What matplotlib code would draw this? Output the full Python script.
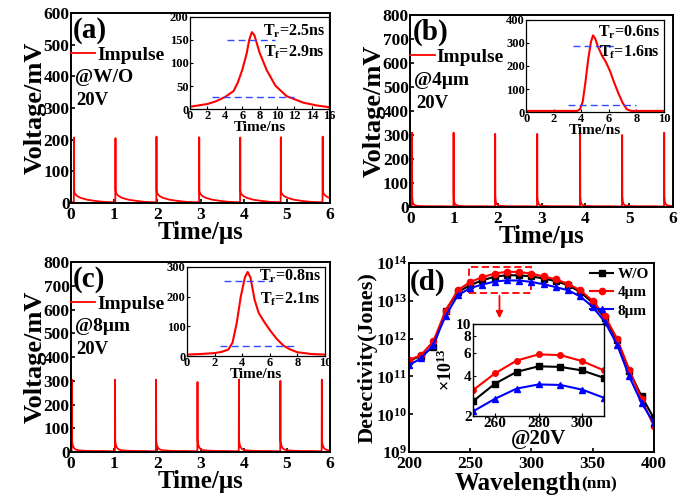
import numpy as np
import matplotlib
matplotlib.use('Agg')
import matplotlib.pyplot as plt
from matplotlib.patches import Rectangle

plt.rcParams['font.family'] = ['Liberation Serif', 'DejaVu Serif']
plt.rcParams['font.weight'] = 'bold'
plt.rcParams['axes.labelweight'] = 'bold'
plt.rcParams['mathtext.fontset'] = 'custom'
plt.rcParams['mathtext.rm'] = 'Liberation Serif:bold'
plt.rcParams['mathtext.bf'] = 'Liberation Serif:bold'
plt.rcParams['mathtext.it'] = 'Liberation Serif:bold:italic'
plt.rcParams['mathtext.default'] = 'regular'

# ---- pulse trains (a)-(c), time in us, voltage in mV
peaks_a = [0.07, 1.03, 1.98, 2.97, 3.92, 4.86, 5.83]
heights_a = [207, 205, 210, 208, 207, 208, 210]
peaks_b = [0.04, 0.99, 1.94, 2.90, 3.88, 4.84, 5.80]
heights_b = [310, 310, 305, 305, 310, 300, 310]
peaks_c = [0.02, 1.02, 1.97, 2.93, 3.89, 4.85, 5.81]
heights_c = [305, 305, 305, 295, 305, 300, 305]

# decay after each spike (offset in us, value in mV)
tail_dt = [0.004, 0.015, 0.04, 0.08, 0.15, 0.3, 0.5, 0.7, 0.9]
tail_a = [40, 32, 27, 22, 17, 11, 7, 4, 3]
tail_b = [45, 22, 11, 7, 5, 4, 4, 4, 3]
tail_c = [50, 33, 20, 12, 8, 6, 5, 5, 4]

# ---- insets, time in ns
ins_a_t = [0, 1, 2, 3, 4, 5, 5.5, 6, 6.5, 6.8, 7.1, 7.4, 8, 8.8, 9.8, 11.1, 13, 14.5, 16]
ins_a_v = [5, 8, 11, 17, 26, 39, 58, 85, 120, 150, 167, 160, 122, 85, 51, 28, 14, 8, 4]
ins_b_t = [0, 3.7, 3.9, 4.1, 4.3, 4.5, 4.7, 4.85, 5.0, 5.2, 5.5, 5.8, 6.1, 6.4, 6.7, 7.0, 7.3, 7.6, 8, 10]
ins_b_v = [5, 5, 12, 45, 130, 230, 305, 333, 320, 285, 245, 215, 175, 125, 80, 40, 12, 5, 5, 5]
ins_c_t = [0, 1, 2, 2.5, 3, 3.3, 3.6, 3.9, 4.2, 4.4, 4.6, 4.9, 5.2, 5.6, 6, 6.5, 7, 7.5, 8, 9, 10]
ins_c_v = [5, 7, 10, 14, 22, 45, 110, 200, 265, 283, 265, 190, 145, 115, 88, 58, 35, 22, 13, 7, 5]

# dashed guide lines: (x0, x1, y)
guides_a = [(4.2, 9.8, 149), (2.5, 11.9, 27)]
guides_b = [(3.4, 6.55, 287), (3.0, 8.0, 32)]
guides_c = [(2.7, 6.1, 251), (2.4, 7.9, 34)]

tr_a, tf_a = '2.5', '2.9'
tr_b, tf_b = '0.6', '1.6'
tr_c, tf_c = '0.8', '2.1'

# ---- (d) detectivity
wl = [200, 210, 220, 230, 240, 250, 260, 270, 280, 290, 300, 310, 320, 330, 340, 350, 360, 370, 380, 390, 400]
det_wo = [2.6e11, 3.5e11, 6e11, 5.5e12, 1.7e13, 2.58e13, 3.5e13, 4.31e13, 4.75e13, 4.7e13, 4.42e13, 3.88e13,
          3.3e13, 2.6e13, 1.7e13, 9e12, 3.5e12, 9e11, 1.4e11, 3e10, 8e9]
det_4 = [2.7e11, 3.7e11, 8.5e11, 5.5e12, 1.9e13, 3.13e13, 4.19e13, 5.25e13, 5.85e13, 5.78e13, 5.2e13, 4.42e13,
         3.7e13, 2.8e13, 1.9e13, 1.0e13, 4e12, 1.0e12, 1.5e11, 2.5e10, 5e9]
det_8 = [2.0e11, 3.0e11, 7e11, 4e12, 1.4e13, 2.16e13, 2.69e13, 3.22e13, 3.46e13, 3.43e13, 3.16e13, 2.74e13,
         2.3e13, 1.9e13, 1.3e13, 7e12, 2.8e12, 7e11, 1e11, 2e10, 6e9]
labels_d = ['W/O', '4μm', '8μm']


def build_train(peaks, heights, tail):
    t = [0.0]
    v = [tail[-1]]
    for t0, h in zip(peaks, heights):
        t += [t0 - 0.004, t0] + [t0 + d for d in tail_dt]
        v += [tail[-1], h] + tail
    return t, v


def pulse_panel(rect, peaks, heights, tail, ymax, tag, sample):
    ax = fig.add_axes(rect)
    t, v = build_train(peaks, heights, tail)
    line, = ax.plot(t, v, color='red', lw=1.3)
    ax.set_xlim(0, 6)
    ax.set_ylim(0, ymax)
    ax.set_yticks(np.arange(0, ymax + 1, 100))
    ax.set_xticks(range(7))
    ax.tick_params(direction='in', length=3, width=1.2, labelsize=12.5, pad=1)
    ax.tick_params(axis='x', pad=2.5)
    for s in ax.spines.values():
        s.set_linewidth(1.4)
    ax.set_xlabel('Time/μs', fontsize=18, labelpad=-1)
    ax.set_ylabel('Voltage/mV', fontsize=19, labelpad=-2)
    ax.text(0.008, 0.91, tag, transform=ax.transAxes, fontsize=21, va='center')
    ax.legend([line], ['Impulse'], loc='center left', bbox_to_anchor=(0.0, 0.78), frameon=False,
              fontsize=14, handlelength=1.25, handletextpad=0.1, borderpad=0, borderaxespad=0)
    ax.text(0.015, 0.66, sample, transform=ax.transAxes, fontsize=14, va='center')
    ax.text(0.022, 0.54, '20V', transform=ax.transAxes, fontsize=13.5, va='center')
    return ax


def inset_panel(rect, t, v, guides, xmax, xstep, ymax, ystep, tr, tf, txt_y):
    ax = fig.add_axes(rect)
    ax.plot(t, v, color='red', lw=1.5)
    for x0, x1, y in guides:
        ax.plot([x0, x1], [y, y], color='#3548ff', lw=1, ls=(0, (5, 3)))
    ax.set_xlim(0, xmax)
    ax.set_ylim(0, ymax)
    ax.set_xticks(np.arange(0, xmax + 0.1, xstep))
    ax.set_yticks(np.arange(0, ymax + 1, ystep))
    ax.tick_params(direction='in', length=2, width=0.8, labelsize=9, pad=1)
    for s in ax.spines.values():
        s.set_linewidth(0.9)
    ax.set_xlabel('Time/ns', fontsize=11, labelpad=-1)
    ax.text(0.97, txt_y[0], 'T$_{r}$=' + tr + 'ns', transform=ax.transAxes, fontsize=11.5, ha='right', va='center')
    ax.text(0.97, txt_y[1], 'T$_{f}$=' + tf + 'ns', transform=ax.transAxes, fontsize=11.5, ha='right', va='center')
    return ax


fig = plt.figure(figsize=(6.86, 4.98), dpi=100)

pulse_panel([0.1035, 0.592, 0.3776, 0.382], peaks_a, heights_a, tail_a, 600, '(a)', '@W/O')
inset_panel([0.277, 0.781, 0.203, 0.185], ins_a_t, ins_a_v, guides_a, 16, 2, 200, 50, tr_a, tf_a, (0.84, 0.62))

pulse_panel([0.598, 0.584, 0.383, 0.386], peaks_b, heights_b, tail_b, 800, '(b)', '@4μm')
inset_panel([0.767, 0.775, 0.201, 0.185], ins_b_t, ins_b_v, guides_b, 10, 2, 400, 100, tr_b, tf_b, (0.87, 0.65))

pulse_panel([0.1035, 0.092, 0.3776, 0.382], peaks_c, heights_c, tail_c, 800, '(c)', '@8μm')
inset_panel([0.2726, 0.285, 0.201, 0.179], ins_c_t, ins_c_v, guides_c, 10, 2, 300, 100, tr_c, tf_c, (0.9, 0.64))

# ---- (d)
axd = fig.add_axes([0.596, 0.092, 0.357, 0.38])
styles = [('black', 's'), ('red', 'o'), ('blue', '^')]
for y, lab, (c, m) in zip([det_wo, det_4, det_8], labels_d, styles):
    axd.plot(wl, y, color=c, marker=m, ms=4.5, lw=1.5, label=lab)
axd.set_yscale('log')
axd.set_xlim(200, 400)
axd.set_ylim(1e9, 1e14)
axd.set_xticks([200, 250, 300, 350, 400])
axd.set_yticks([1e9, 1e10, 1e11, 1e12, 1e13, 1e14])
axd.minorticks_off()
axd.tick_params(direction='in', length=3, width=1.2, labelsize=12.5, pad=1)
axd.tick_params(axis='x', pad=2.5)
for s in axd.spines.values():
    s.set_linewidth(1.4)
axd.set_ylabel('Detectivity(Jones)', fontsize=16, labelpad=-1)
wtxt = axd.text(0.188, -0.168, 'Wavelength', transform=axd.transAxes, fontsize=18, va='center')
axd.annotate('(nm)', xy=(1.0, 0.12), xycoords=wtxt, fontsize=12.5, va='bottom', ha='left')
axd.text(0.004, 0.9, '(d)', transform=axd.transAxes, fontsize=21, va='center')
axd.legend(loc='upper right', bbox_to_anchor=(1.0, 1.0), frameon=False, fontsize=11,
           handlelength=1.5, handletextpad=0.3, labelspacing=0.3, borderpad=0.2, borderaxespad=0.1)
axd.add_patch(Rectangle((249, 1.6e13), 51, 7.7e13 - 1.6e13, fill=False, ec='red', lw=1.3, ls=(0, (4, 2))))
axd.annotate('', xy=(274, 2.9e12), xytext=(274, 1.6e13),
             arrowprops=dict(arrowstyle='-|>', color='red', lw=1.3, mutation_scale=10))

axi = fig.add_axes([0.6895, 0.165, 0.191, 0.185])
sel = slice(5, 12)
for y, (c, m) in zip([det_wo, det_4, det_8], styles):
    axi.plot(wl[sel], [val / 1e13 for val in y[sel]], color=c, marker=m, ms=4, lw=1.5)
axi.set_yscale('log')
axi.set_xlim(250, 310)
axi.set_ylim(2, 10)
axi.set_xticks([260, 280, 300])
axi.set_yticks([2, 4, 6, 8, 10])
axi.set_yticklabels(['2', '4', '6', '8', '10'])
axi.minorticks_off()
axi.tick_params(direction='in', length=2, width=0.8, labelsize=11, pad=1)
for s in axi.spines.values():
    s.set_linewidth(1.0)
axi.set_ylabel('×10$^{13}$', fontsize=13, labelpad=0)
axi.set_xlabel('@20V', fontsize=15, labelpad=-1)

fig.savefig('out.png', dpi=100)
